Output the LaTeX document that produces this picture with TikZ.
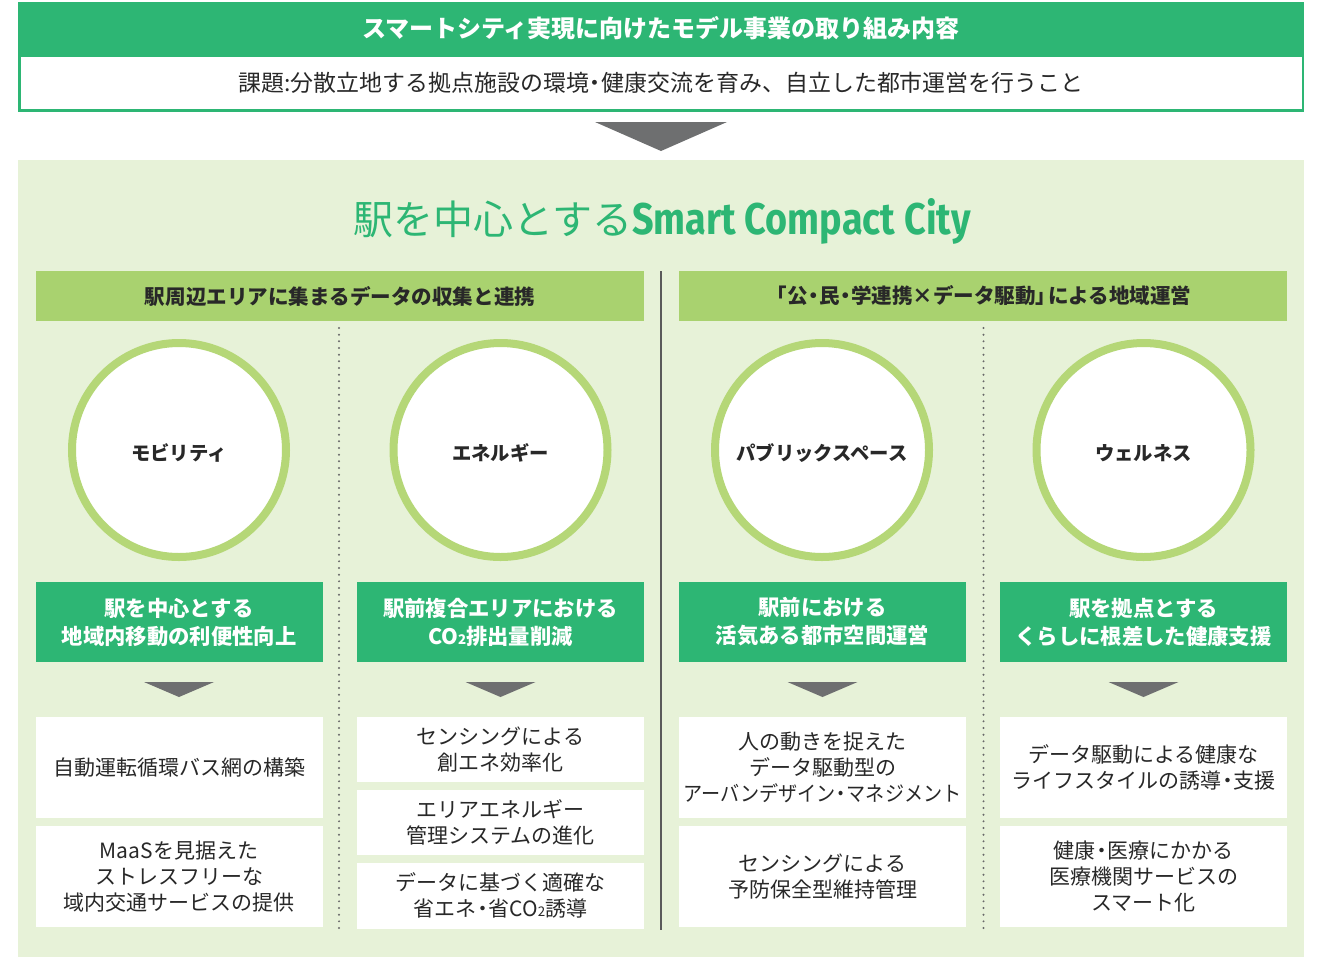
\documentclass[tikz,border=0pt]{standalone}
\usepackage{fontspec}
\setmainfont{Noto Sans CJK JP}
\newfontfamily\titlelat{Fira Sans}
\usepackage{graphicx}
\definecolor{mygreen}{RGB}{45,182,116}
\definecolor{lightbg}{RGB}{231,242,216}
\definecolor{secgreen}{RGB}{169,210,111}
\definecolor{ringgreen}{RGB}{181,215,119}
\definecolor{trigray}{RGB}{110,111,112}
\definecolor{linegray}{RGB}{90,90,90}
\definecolor{dotgray}{RGB}{105,105,105}
\definecolor{txt}{RGB}{40,40,40}
\newcommand\pw[1]{#1*0.75pt}
\newcommand\cotwo{CO{\fontsize{10}{10}\selectfont 2}}
\newcommand\nk{\kern-0.22em・\kern-0.22em}
\newcommand\lbk{\kern-0.4em「}
\newcommand\rbk{」\kern-0.4em}
\tikzset{
  every node/.style={inner sep=0pt, outer sep=0pt, text=txt, align=center},
  hdrbox/.style={fill=mygreen, minimum width=\pw{1286}, minimum height=\pw{52},
    text=white, font=\fontsize{18}{18}\selectfont\bfseries},
  subbox/.style={fill=white, draw=mygreen, line width=\pw{2.5}, minimum width=\pw{1283.5},
    minimum height=\pw{55}, font=\fontsize{17.2}{17.2}\selectfont},
  secbox/.style={fill=secgreen, minimum width=\pw{608}, minimum height=\pw{50},
    font=\fontsize{15.4}{15.4}\selectfont\bfseries},
  ringc/.style={circle, fill=white, draw=ringgreen, line width=\pw{8}, minimum size=\pw{214}},
  ringtext/.style={font=\fontsize{14.5}{14.5}\selectfont\bfseries},
  gbox/.style={fill=mygreen, minimum width=\pw{287}, minimum height=\pw{80}, text=white,
    font=\fontsize{16}{21}\selectfont\bfseries},
  wbox/.style={fill=white, minimum width=\pw{287}, minimum height=\pw{#1},
    font=\fontsize{15.75}{19.5}\selectfont},
  wbox/.default=101,
  tri/.style={fill=trigray},
  dotline/.style={draw=dotgray, line width=\pw{2.2}, line cap=round, dash pattern=on 0pt off 5pt},
  solidline/.style={draw=linegray, line width=\pw{2.2}}
}
\begin{document}
\begin{tikzpicture}[x=0.75pt, y=-0.75pt]
\useasboundingbox (0,0) rectangle (1319,957);
% background
\fill[lightbg] (18,160) rectangle (1304,957);
% top header
\node[subbox] (sub) at (661,83) {課題:分散立地する拠点施設の環境\nk 健康交流を育み、自立した都市運営を行うこと};
\node[hdrbox] (hdr) at (661,28) {スマートシティ実現に向けたモデル事業の取り組み内容};
\fill[tri] (595,122) -- (727,122) -- (661,151) -- cycle;
% title
\node[text=mygreen] (title) at (662,221) {{\fontsize{30}{30}\selectfont 駅を中心とする}\resizebox{254pt}{27pt}{\titlelat\bfseries Smart Compact City}};
% section headers
\node[secbox] (sec1) at (340,296) {駅周辺エリアに集まるデータの収集と連携};
\node[secbox] (sec2) at (983,296) {\lbk 公\nk 民\nk 学連携×データ駆動\rbk による地域運営};
% separators
\coordinate (sTop) at (661,271);
\coordinate (sBot) at (661,930);
\draw[solidline] (sTop) -- (sBot);
\coordinate (d1Top) at (339,328);
\coordinate (d1Bot) at (339,930);
\draw[dotline] (d1Top) -- (d1Bot);
\coordinate (d2Top) at (983.5,328);
\coordinate (d2Bot) at (983.5,930);
\draw[dotline] (d2Top) -- (d2Bot);
% circles
\node[ringc] (c1) at (179,450) {};
\node[ringc] (c2) at (500.5,450) {};
\node[ringc] (c3) at (822,450) {};
\node[ringc] (c4) at (1143.5,450) {};
\node[ringtext] (t1) at (179,453) {モビリティ};
\node[ringtext] (t2) at (500.5,453) {エネルギー};
\node[ringtext] (t3) at (822,453) {パブリックスペース};
\node[ringtext] (t4) at (1143.5,453) {ウェルネス};
% green boxes
\node[gbox] (g1) at (179,622) {駅を中心とする\\地域内移動の利便性向上};
\node[gbox] (g2) at (500.5,622) {駅前複合エリアにおける\\\cotwo 排出量削減};
\node[gbox] (g3) at (822.5,622) {駅前における\\活気ある都市空間運営};
\node[gbox] (g4) at (1143.5,622) {駅を拠点とする\\くらしに根差した健康支援};
% small triangles
\foreach \cx in {179,500.5,822.5,1143.5}{
  \fill[tri] (\cx-35,682) -- (\cx+35,682) -- (\cx,697) -- cycle;
}
% white boxes column 1
\node[wbox] (w11) at (179,767.5) {自動運転循環バス網の構築};
\node[wbox] (w12) at (179,876.5) {MaaSを見据えた\\ストレスフリーな\\域内交通サービスの提供};
% column 2
\node[wbox=65] (w21) at (500.5,749.5) {センシングによる\\創エネ効率化};
\node[wbox=65] (w22) at (500.5,822.5) {エリアエネルギー\\管理システムの進化};
\node[wbox=66] (w23) at (500.5,895.5) {データに基づく適確な\\省エネ\nk 省\cotwo 誘導};
% column 3
\node[wbox] (w31) at (822.5,767.5) {人の動きを捉えた\\データ駆動型の\\\scalebox{0.91}[1]{アーバンデザイン\nk マネジメント}};
\node[wbox] (w32) at (822.5,876.5) {センシングによる\\予防保全型維持管理};
% column 4
\node[wbox] (w41) at (1143.5,767.5) {データ駆動による健康な\\ライフスタイルの誘導\nk 支援};
\node[wbox] (w42) at (1143.5,876.5) {健康\nk 医療にかかる\\医療機関サービスの\\スマート化};
\end{tikzpicture}
\end{document}
